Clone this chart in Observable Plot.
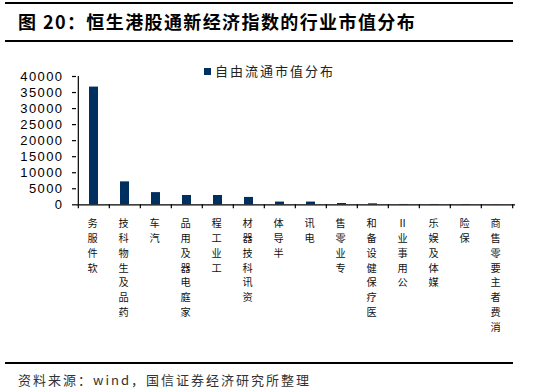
<!DOCTYPE html>
<html><head><meta charset="utf-8">
<script src="https://cdn.jsdelivr.net/npm/d3@7"></script>
<script src="https://cdn.jsdelivr.net/npm/@observablehq/plot@0.6"></script>
<style>
body{margin:0;background:#fff;}
#wrap{position:relative;width:533px;height:391px;overflow:hidden;font-family:"Noto Sans CJK SC",sans-serif;background:#fff;}
.rule{position:absolute;left:5px;width:508px;background:#000;}
#title{position:absolute;left:18px;top:11px;font-size:18px;line-height:20px;font-weight:bold;letter-spacing:1.4px;color:#000;white-space:nowrap;}
#chart{position:absolute;left:0;top:45px;}
#legend{position:absolute;left:204px;top:62px;font-size:13px;line-height:18px;letter-spacing:2px;color:#222;white-space:nowrap;}
#legend .sw{position:absolute;left:0;top:5.7px;width:7px;height:7px;background:#00305f;}
#legend .lt{position:absolute;left:11px;top:0;}
#source{position:absolute;left:18px;top:371px;font-size:13px;line-height:18px;letter-spacing:2px;color:#333;white-space:nowrap;}
#chart svg g[aria-label="y-axis tick label"]{letter-spacing:1.4px;}
</style></head><body>
<div id="wrap">
  <div class="rule" style="top:2px;height:2px"></div>
  <div id="title">图 20：恒生港股通新经济指数的行业市值分布</div>
  <div class="rule" style="top:40px;height:2px"></div>
  <div id="chart"></div>
  <div id="legend"><span class="sw"></span><span class="lt">自由流通市值分布</span></div>
  <div class="rule" style="top:362px;height:2px"></div>
  <div id="source">资料来源：wind，国信证券经济研究所整理</div>
</div>
<script>
const categories = ["软件服务","药品及生物科技","汽车","家庭电器及用品","工业工程","资讯科技器材","半导体","电讯","专业零售","医疗保健设备和","公用事业Ⅱ","媒体及娱乐","保险","消费者主要零售商"];
const values = [36700,7150,3800,2900,2900,2300,850,850,400,300,100,100,80,50];
const yTicks = [0,5000,10000,15000,20000,25000,30000,35000,40000];
const seriesName = "自由流通市值分布";

const data = categories.map((c,i)=>({category:c, value:values[i], series:seriesName}));
const W = 533, H = 310, ML = 76, MR = 18, MT = 31, MB = 150.7;
const step = (W - ML - MR) / categories.length;

const chart = Plot.plot({
  width: W, height: H,
  marginLeft: ML, marginRight: MR, marginTop: MT, marginBottom: MB,
  x: {domain: categories, paddingInner: 0.7, paddingOuter: 0.35},
  y: {domain: [0, 40000]},
  style: {fontFamily: "'Noto Sans CJK SC', sans-serif", color: "#000", background: "transparent", overflow: "visible"},
  marks: [
    Plot.barY(data, {x: "category", y: "value", fill: "#00305f"}),
    Plot.ruleY([0], {stroke: "#000", strokeWidth: 1.2}),
    Plot.ruleX([categories[0]], {dx: -step/2, y1: 0, y2: 40000, stroke: "#000", strokeWidth: 1.2}),
    Plot.axisY({ticks: yTicks, tickSize: 4, tickPadding: 9, tickFormat: d => String(d), fontSize: 13, fontFamily: "'Liberation Sans', Arial, sans-serif", stroke: "#000", strokeWidth: 1.2, label: null}),
    Plot.axisX({tickSize: 4, tickFormat: () => "", dx: -step/2, stroke: "#000", strokeWidth: 1.2, label: null}),
    Plot.axisX({ticks: [categories[categories.length-1]], tickSize: 4, tickFormat: () => "", dx: step/2, stroke: "#000", strokeWidth: 1.2, label: null}),
    Plot.axisX({tickSize: 0, tickPadding: 12, dx: -1.5, tickFormat: d => [...d].reverse().join("\n"), textAnchor: "middle", lineHeight: 1.45, lineAnchor: "top", fontSize: 10.2, fill: "#111", label: null})
  ]
});
document.getElementById("chart").appendChild(chart);
</script>
</body></html>
